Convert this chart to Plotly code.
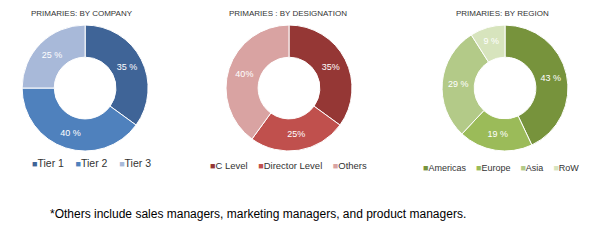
import plotly.graph_objects as go

company_labels = ["Tier 1", "Tier 2", "Tier 3"]
company_values = [35, 40, 25]
company_colors = ["#3F6497", "#4F81BD", "#A8B9D9"]

designation_labels = ["C Level", "Director Level", "Others"]
designation_values = [35, 25, 40]
designation_colors = ["#953735", "#C0504D", "#D9A3A2"]

region_labels = ["Americas", "Europe", "Asia", "RoW"]
region_values = [43, 19, 29, 9]
region_colors = ["#77933C", "#9BBB59", "#B3CA88", "#D7E4BD"]

titles = ["PRIMARIES: BY COMPANY", "PRIMARIES : BY DESIGNATION", "PRIMARIES: BY REGION"]
footnote = "*Others include sales managers, marketing managers, and product managers."

W, H = 591, 248
FONT = "Liberation Sans, Arial, sans-serif"

ydom = [0.391, 0.899]
xdoms = [[0.037, 0.251], [0.382, 0.596], [0.748, 0.961]]

fig = go.Figure()
specs = [
    (company_labels, company_values, company_colors, "%{value} %"),
    (designation_labels, designation_values, designation_colors, "%{value}%"),
    (region_labels, region_values, region_colors, "%{value} %"),
]
for i, (lab, val, col, tmpl) in enumerate(specs):
    fig.add_trace(go.Pie(
        labels=lab, values=val, hole=0.49, sort=False, direction="clockwise",
        rotation=0, marker=dict(colors=col, line=dict(color="white", width=1)),
        texttemplate=tmpl, textinfo="text", textposition="inside",
        insidetextorientation="horizontal",
        textfont=dict(family=FONT, size=9, color="white"),
        domain=dict(x=xdoms[i], y=ydom), showlegend=False,
        hoverinfo="label+percent",
    ))

title_x = [82, 288, 502]
for t, cx in zip(titles, title_x):
    fig.add_annotation(text=t, x=cx / W, y=1 - 14 / H, xref="paper", yref="paper",
                       showarrow=False, font=dict(family=FONT, size=8, color="#333333"),
                       xanchor="center", yanchor="middle")

# legends built from the label / colour arrays
legend_x = [91, 288, 501]
legend_y = [163, 165, 168]
legend_size = [10.5, 9.5, 9]
SP = "&nbsp;" * 4
for (lab, val, col, tmpl), cx, cy, fs in zip(specs, legend_x, legend_y, legend_size):
    parts = [f"<span style='color:{c};font-size:9px'>■</span>{l}" for l, c in zip(lab, col)]
    fig.add_annotation(text=SP.join(parts), x=cx / W, y=1 - cy / H, xref="paper", yref="paper",
                       showarrow=False, font=dict(family=FONT, size=fs, color="#333333"),
                       xanchor="center", yanchor="middle")

fig.add_annotation(text=footnote, x=258 / W, y=1 - 214 / H, xref="paper", yref="paper",
                   showarrow=False, font=dict(family=FONT, size=12, color="#000000"),
                   xanchor="center", yanchor="middle")

fig.update_layout(
    width=W, height=H, margin=dict(l=0, r=0, t=0, b=0),
    paper_bgcolor="white", plot_bgcolor="white", showlegend=False,
)

fig.write_html("out.html")
